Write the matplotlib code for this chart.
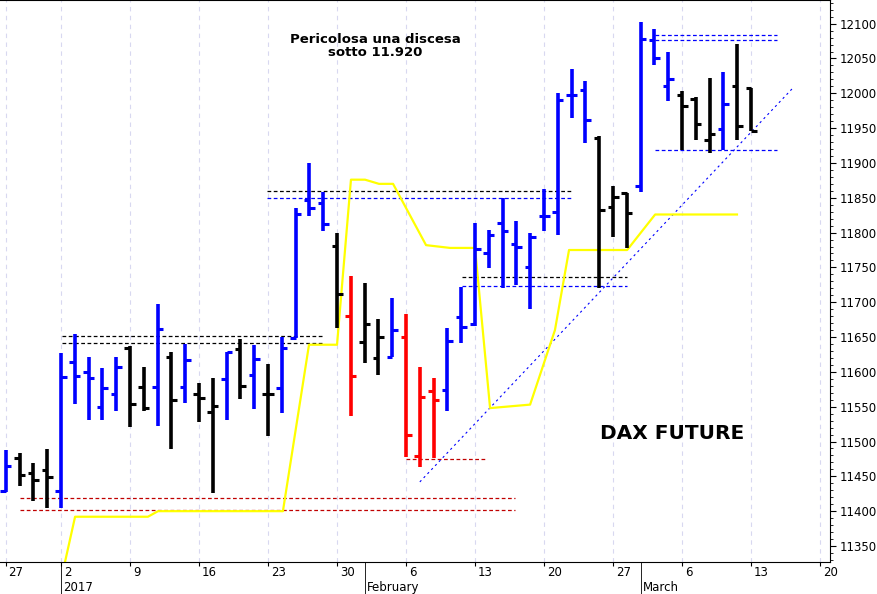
import matplotlib
matplotlib.use("Agg")
import matplotlib.pyplot as plt
import numpy as np

opens  = [11429,11476,11455,11459,11429,11614,11600,11550,11568,11634,11578,11578,11622,11578,11568,11543,11590,11633,11596,11568,11577,
          11649,11847,11843,11781,11680,11643,11620,11622,11650,11479,11573,11574,11679,11669,11771,11814,11784,11751,11824,11830,11997,12005,
          11936,11837,11857,11867,12077,12011,11997,11992,11933,11949,12011,12008]
highs  = [11488,11484,11469,11489,11627,11655,11622,11606,11622,11637,11607,11698,11629,11640,11584,11591,11629,11647,11639,11611,11650,
          11836,11900,11859,11800,11738,11728,11676,11706,11683,11607,11591,11663,11722,11814,11804,11850,11816,11800,11863,12001,12035,12018,
          11938,11867,11857,12103,12093,12060,12004,11994,12022,12030,12071,12008]
lows   = [11428,11436,11415,11405,11405,11554,11531,11531,11544,11521,11544,11522,11489,11555,11528,11426,11531,11561,11547,11508,11541,
          11649,11824,11803,11663,11537,11613,11596,11622,11478,11463,11476,11544,11642,11666,11749,11721,11725,11690,11803,11797,11965,11928,
          11721,11793,11778,11859,12040,11989,11919,11933,11915,11918,11933,11946]
closes = [11465,11452,11445,11449,11593,11594,11591,11577,11607,11554,11548,11662,11560,11617,11563,11551,11629,11580,11619,11568,11634,
          11827,11836,11813,11712,11594,11669,11650,11660,11509,11564,11560,11645,11665,11777,11797,11803,11780,11794,11824,11991,11998,11962,
          11833,11851,11828,12078,12051,12020,11982,11956,11942,11984,11953,11946]
bar_colors = list("bkkkbbbbbkkbkbkkbkbkbbbbkrkkbrrrbbbbbbbbbbbkkkbbbkkkbkk")

tick_idx = [0,4,9,14,19,24,29,34,39,44,49,54,59]
tick_labels = ["27","2","9","16","23","30","6","13","20","27","6","13","20"]
month_idx = [4,26,46]
month_labels = ["2017","February","March"]

yellow_x = [4.29,5.02,10.30,11.03,20.08,21.97,24.0,25.01,26.03,27.04,28.06,30.45,32.19,34.0,35.09,37.99,39.79,40.81,45.02,47.05,52.98]
yellow_y = [11327,11392,11392,11400,11400,11639,11639,11876,11876,11870,11870,11782,11778,11778,11548,11553,11660,11775,11775,11826,11826]

# (level, x0, x1, color)
hlines = [(11860,18.96,41.07,'k'),(11850,18.96,41.07,'b'),
          (11652,4.04,23.02,'k'),(11642,4.04,23.02,'k'),
          (11419,1.0,36.91,'#c00000'),(11402,1.0,36.91,'#c00000'),
          (11475,29.0,34.88,'#c00000'),
          (11736,33.06,45.03,'k'),(11724,33.06,45.03,'b'),
          (12084,47.06,55.9,'b'),(12076,47.06,55.9,'b'),(11919,47.06,55.9,'b')]
trend_x = [30.0,57.0]
trend_y = [11442,12007]

cmap = {'b':'#0000ff','k':'#000000','r':'#ff0000'}

fig = plt.figure(figsize=(8.77,5.94), dpi=100)
ax = fig.add_axes([0, 32/594, 830/877, 562/594])
ax.set_xlim(-0.42, 59.72)
ax.set_ylim(11327, 12134)

for t in tick_idx:
    ax.axvline(t, color='#d8d8f0', lw=0.8, ls=(0,(4,4)), zorder=0)

for lvl,a,b,c in hlines:
    ax.plot([a,b],[lvl,lvl],color=c,lw=0.9,ls=(0,(3,2)),zorder=1)
ax.plot(trend_x,trend_y,color='b',lw=0.8,ls=(0,(2,3)),zorder=1)
ax.plot(yellow_x,yellow_y,color='#ffff00',lw=1.6,zorder=2)

for i,(o,h,l,c,col) in enumerate(zip(opens,highs,lows,closes,bar_colors)):
    cc = cmap[col]
    ax.plot([i,i],[l,h],color=cc,lw=2.6,solid_capstyle='butt',zorder=3)
    ax.plot([i-0.4,i],[o,o],color=cc,lw=2.2,solid_capstyle='butt',zorder=3)
    ax.plot([i,i+0.4],[c,c],color=cc,lw=2.2,solid_capstyle='butt',zorder=3)

ax.text(26.8,12068,"Pericolosa una discesa\nsotto 11.920",ha='center',va='center',
        fontsize=9.5,fontweight='bold',linespacing=1.0)
ax.text(48.3,11512,"DAX FUTURE",ha='center',va='center',fontsize=14.5,fontweight='bold')

ax.yaxis.tick_right()
ax.set_yticks(np.arange(11350,12101,50))
ax.set_yticks(np.arange(11330,12131,10),minor=True)
ax.tick_params(axis='y',labelsize=8.5,length=4,pad=3)
ax.tick_params(axis='y',which='minor',length=2)
ax.set_xticks(tick_idx)
ax.set_xticklabels([])
ax.tick_params(axis='x',length=3)
for s in ax.spines.values():
    s.set_linewidth(0.8)
ax.spines['left'].set_visible(False)

trans = ax.get_xaxis_transform()
for t,lab in zip(tick_idx,tick_labels):
    ax.text(t+0.2,-0.018,lab,transform=trans,fontsize=8.5,ha='left',va='center',clip_on=False)
for m,lab in zip(month_idx,month_labels):
    ax.text(m+0.15,-0.045,lab,transform=trans,fontsize=8.5,ha='left',va='center',clip_on=False)
    ax.plot([m,m],[-0.06,0],transform=trans,color='k',lw=0.6,clip_on=False)

fig.savefig("out.png",dpi=100,facecolor='white')
